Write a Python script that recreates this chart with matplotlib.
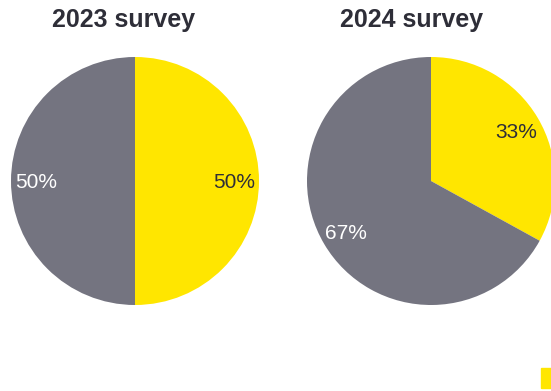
import matplotlib
matplotlib.use('Agg')
from matplotlib import pyplot as plt
from matplotlib.patches import Patch

plt.rcParams['font.family'] = ['Liberation Sans', 'DejaVu Sans']

years = ['2023 survey', '2024 survey']
answers = ['Yes', 'No']
shares_2023 = [50, 50]
shares_2024 = [33, 67]

yellow = '#FFE600'
grey = '#747480'
dark = '#2E2E38'

W, H = 551, 391
fig = plt.figure(figsize=(W / 100, H / 100), dpi=100)


def pie_axes(cx, cy, r):
    return fig.add_axes([(cx - r) / W, 1 - (cy + r) / H, 2 * r / W, 2 * r / H])


def draw_pie(ax, values):
    wedges, texts, autotexts = ax.pie(values, colors=[yellow, grey], startangle=90,
                                      counterclock=False, pctdistance=0.8,
                                      autopct=lambda p: f'{p:.0f}%',
                                      textprops={'fontsize': 15})
    autotexts[0].set_color(dark)
    autotexts[1].set_color('white')
    # labels sit a touch below the wedge midline
    for t in autotexts:
        x, y = t.get_position()
        t.set_position((x, y - 0.015))
    ax.set_aspect('equal')
    ax.set_xlim(-1, 1)
    ax.set_ylim(-1, 1)
    ax.axis('off')


ax1 = pie_axes(135, 181, 124)
draw_pie(ax1, shares_2023)
ax2 = pie_axes(431, 181, 124)
draw_pie(ax2, shares_2024)

fig.text(124 / W, 1 - 20 / H, years[0], ha='center', va='center',
         fontsize=18, fontweight='bold', color=dark)
fig.text(412 / W, 1 - 20 / H, years[1], ha='center', va='center',
         fontsize=18, fontweight='bold', color=dark)

# legend starts at the right edge, only its first swatch shows
handles = [Patch(color=yellow), Patch(color=grey)]
fig.legend(handles, answers, loc='upper left', ncol=2,
           bbox_to_anchor=(541 / W, 1 - 368 / H), frameon=False,
           borderpad=0, borderaxespad=0, handlelength=1.2, handleheight=1.2,
           handletextpad=1.5, fontsize=14)

fig.savefig('out.png', dpi=100)
